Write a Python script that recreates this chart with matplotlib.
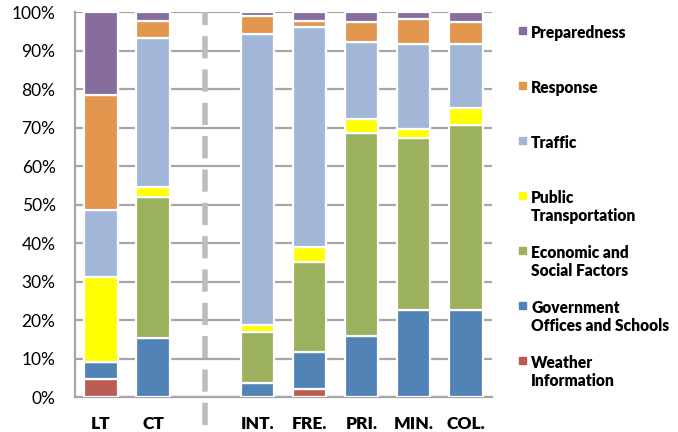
"""stacked percentage bars by information category"""
import numpy as np
import matplotlib.pyplot as plt
from matplotlib.patches import Rectangle

GROUPS = ["LT", "CT", "INT.", "FRE.", "PRI.", "MIN.", "COL."]
CATEGORIES = [
    "Weather\nInformation", "Government\nOffices and Schools",
    "Economic and\nSocial Factors", "Public\nTransportation",
    "Traffic", "Response", "Preparedness"]
COLORS = ["#BC5B54", "#5283B7", "#9BB15D", "#FFFF00",
          "#A2B7D8", "#E3964E", "#876C9E"]

WEATHER = [4.8, 0.0, 0.0, 2.1, 0.0, 0.0, 0.0]
GOVERNMENT = [4.3, 15.3, 3.6, 9.5, 15.9, 22.5, 22.5]
ECONOMIC = [0.0, 36.6, 13.4, 23.6, 52.6, 44.8, 48.1]
PUBLIC = [22.2, 2.7, 1.8, 3.9, 3.8, 2.2, 4.5]
TRAFFIC = [17.3, 38.7, 75.6, 57.0, 19.9, 22.1, 16.5]
RESPONSE = [29.8, 4.5, 4.6, 1.7, 5.1, 6.7, 5.7]
PREPAREDNESS = [21.6, 2.2, 1.0, 2.2, 2.7, 1.7, 2.7]
SERIES = [WEATHER, GOVERNMENT, ECONOMIC, PUBLIC, TRAFFIC, RESPONSE,
          PREPAREDNESS]


def plot():
    """draw the chart"""
    fig = plt.figure(figsize=(6.78, 4.32), dpi=100)
    ax = fig.add_axes([0.1106, 0.081, 0.615, 0.891])

    # leave an empty slot after CT for the dashed separator
    x = np.arange(len(GROUPS), dtype=float)
    x[2:] += 1

    bottom = np.zeros(len(GROUPS))
    for values, color in zip(SERIES, COLORS):
        vals = np.array(values)
        ax.bar(x, vals, bottom=bottom, width=0.64, color=color,
               edgecolor="white", linewidth=1.6, zorder=3)
        bottom += vals

    ax.set_xlim(-0.5, 7.5)
    ax.set_ylim(0, 100)
    ax.set_yticks(np.arange(0, 101, 10))
    ax.set_yticklabels([f"{v}%" for v in range(0, 101, 10)],
                       family="Lato", fontsize=12.5)
    ax.set_xticks(x)
    ax.set_xticklabels(GROUPS, family="Lato", fontweight="heavy",
                       fontsize=12.5)
    ax.tick_params(length=0)
    ax.tick_params(axis="x", pad=14)
    ax.tick_params(axis="y", pad=14)
    ax.yaxis.grid(True, color="#A6A6A6", linewidth=1.6, zorder=0)
    for side in ["top", "right"]:
        ax.spines[side].set_visible(False)
    for side in ["left", "bottom"]:
        ax.spines[side].set_color("#A6A6A6")
        ax.spines[side].set_linewidth(1.6)

    # separator between the two groups
    ax.plot([2, 2], [-7.3, 100], color="#BDBDBD", linewidth=4,
            linestyle=(0, (4, 2)), clip_on=False, zorder=4)

    # legend on the right, marker beside the first line of each label
    for i, (label, color) in enumerate(zip(CATEGORIES[::-1], COLORS[::-1])):
        ytop = 1 - (30 + 55 * i) / 432
        fig.patches.append(Rectangle((519 / 678, ytop - 0.009), 7 / 678,
                                     7 / 432, color=color,
                                     transform=fig.transFigure))
        fig.text(531 / 678, ytop + 0.012, label, family="Lato",
                 fontweight="heavy", fontsize=11.2, va="top",
                 linespacing=1.15)

    plt.savefig("out.png")


plot()
